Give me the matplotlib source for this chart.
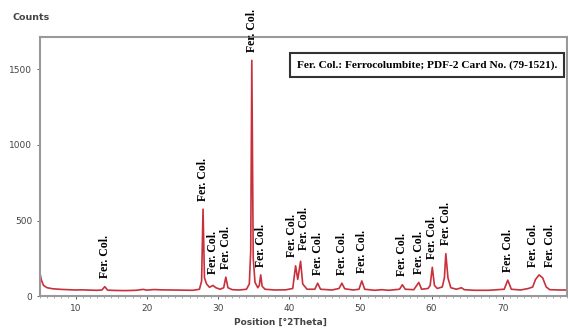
import matplotlib.pyplot as plt
from matplotlib.ticker import MultipleLocator

# XRD trace, 2-theta (deg) vs counts
two_theta = [5.0, 5.2, 5.5, 6.0, 6.8, 8.0, 9.0, 10.0, 11.0, 12.0, 13.0, 13.7, 14.1, 14.5,
             15.5, 17.0, 18.5, 19.5, 20.0, 21.0, 22.0, 23.5, 25.0, 26.5, 27.4, 27.7, 27.9,
             28.1, 28.4, 28.8, 29.3, 29.7, 30.3, 30.8, 31.1, 31.4, 32.0, 33.0, 34.0, 34.4,
             34.6, 34.75, 34.95, 35.2, 35.6, 35.8, 36.0, 36.2, 36.6, 38.0, 39.5, 40.5, 40.9,
             41.2, 41.6, 41.9, 42.5, 43.6, 44.0, 44.4, 46.0, 47.0, 47.4, 47.8, 49.0, 49.8,
             50.2, 50.6, 52.0, 53.0, 54.0, 55.5, 55.9, 56.3, 57.5, 58.2, 58.6, 59.5, 59.8,
             60.1, 60.4, 60.8, 61.5, 61.8, 62.0, 62.3, 62.7, 63.5, 64.2, 64.6, 66.0, 68.0,
             70.2, 70.7, 71.2, 72.5, 73.6, 74.2, 74.6, 75.1, 75.6, 76.1, 76.6, 78.0, 79.0]
counts = [150, 105, 70, 55, 48, 44, 42, 40, 41, 39, 38, 40, 62, 39,
          37, 36, 38, 44, 39, 43, 41, 40, 39, 38, 45, 100, 575,
          120, 80, 58, 70, 55, 45, 55, 125, 55, 42, 40, 45, 80,
          300, 1560, 250, 90, 55, 70, 140, 65, 45, 40, 41, 50, 200,
          110, 230, 80, 45, 45, 85, 45, 40, 50, 85, 48, 40, 45,
          100, 45, 38, 42, 38, 45, 75, 45, 42, 90, 45, 50, 70,
          190, 70, 50, 60, 120, 280, 120, 55, 45, 55, 42, 38, 38,
          45, 105, 45, 40, 50, 60, 110, 140, 120, 60, 42, 40, 40]

# reflections marked as ferrocolumbite
peak_pos = [14.1, 27.9, 29.3, 31.1, 34.75, 36.1, 40.9, 41.6, 44.0, 47.4, 50.2,
            55.9, 58.2, 60.1, 62.0, 70.7, 74.7, 76.1]
peak_counts = [62, 575, 90, 125, 1560, 140, 200, 250, 85, 85, 100,
               75, 90, 190, 280, 105, 140, 140]
peak_label = "Fer. Col."


def crowded(i, j):
    # two small neighbouring reflections whose labels would collide
    if j < 0 or j >= len(peak_pos):
        return False
    close = abs(peak_pos[j] - peak_pos[i]) < 1.45
    return close and max(peak_counts[i], peak_counts[j]) < 400


fig = plt.figure(figsize=(5.68, 3.33), dpi=100)
ax = fig.add_axes([0.0704, 0.111, 0.9276, 0.778])

ax.plot(two_theta, counts, color='#c8303c', lw=1.2)

for i, (x, y) in enumerate(zip(peak_pos, peak_counts)):
    dx = 0
    if crowded(i, i + 1):
        dx = -2.5
    elif crowded(i, i - 1):
        dx = 2.5
    ax.annotate(peak_label, xy=(x, y), xytext=(dx, 6), textcoords='offset points',
                rotation=90, ha='center', va='bottom', fontsize=8.5,
                family='Liberation Serif', fontweight='bold', annotation_clip=False)

ax.text(0.487, 0.892, "Fer. Col.: Ferrocolumbite; PDF-2 Card No. (79-1521).",
        transform=ax.transAxes, fontsize=8.2, family='Liberation Serif',
        fontweight='bold', va='center', ha='left',
        bbox=dict(boxstyle='square,pad=0.6', facecolor='white', edgecolor='#333333', lw=1.5))

ax.set_xlim(5, 79)
ax.set_ylim(0, 1715)
ax.set_yticks([0, 500, 1000, 1500])
ax.xaxis.set_major_locator(MultipleLocator(10))
ax.xaxis.set_minor_locator(MultipleLocator(1))
ax.tick_params(axis='both', labelsize=6.5, colors='#444444', length=2, width=0.6)
ax.tick_params(axis='x', which='minor', length=1.5, width=0.5, colors='#888888')
for s in ax.spines.values():
    s.set_color('#999999')
    s.set_linewidth(1.5)

fig.text(0.022, 0.94, "Counts", fontsize=6.8, color='#444444', fontweight='bold')
ax.set_xlabel("Position [°2Theta]", fontsize=6.5, color='#444444', fontweight='bold', labelpad=4)
ax.xaxis.set_label_coords(0.457, -0.085)

fig.savefig('out.png', dpi=100)
